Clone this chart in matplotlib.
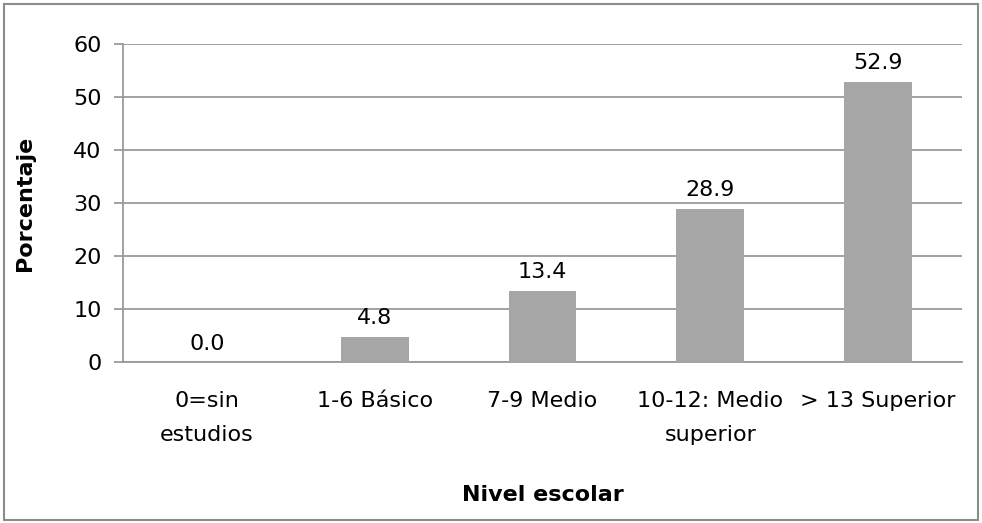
import matplotlib
matplotlib.use("Agg")
import matplotlib.pyplot as plt
from matplotlib.patches import Rectangle

categories = ["0=sin\nestudios", "1-6 Básico", "7-9 Medio", "10-12: Medio\nsuperior", "> 13 Superior"]
values = [0.0, 4.8, 13.4, 28.9, 52.9]
yticks = [0, 10, 20, 30, 40, 50, 60]

plt.rcParams['font.family'] = ['DejaVu Sans']

fig = plt.figure(figsize=(9.82, 5.23), dpi=100)
ax = fig.add_axes([123/982, (523-362)/523, 839/982, 318/523])

grid_c = "#9a9a9a"
bar_c = "#a6a6a6"

x = list(range(len(categories)))
ax.bar(x, values, width=0.405, color=bar_c, zorder=3)
ax.set_xlim(-0.5, len(categories) - 0.5)
ax.set_ylim(0, 60)
ax.set_yticks(yticks)
ax.set_yticklabels([str(t) for t in yticks])
ax.yaxis.grid(True, color=grid_c, linewidth=1.3, zorder=0)
ax.set_axisbelow(True)

for s in ["top", "right"]:
    ax.spines[s].set_visible(False)
for s in ["left", "bottom"]:
    ax.spines[s].set_color(grid_c)
    ax.spines[s].set_linewidth(1.3)

ax.tick_params(axis='y', length=6.5, width=1.3, color=grid_c, labelsize=16, pad=9, labelcolor='black')
ax.tick_params(axis='x', length=0, labelsize=16, pad=21, labelcolor='black')
ax.set_xticks(x)
ax.set_xticklabels(categories, linespacing=1.85)

for xi, v in zip(x, values):
    ax.annotate(f"{v:.1f}", (xi, v), xytext=(0, 9), textcoords="offset points",
                ha="center", va="baseline", fontsize=16, color="black")

ax.set_xlabel("Nivel escolar", fontsize=16, fontweight="bold", labelpad=29)
ax.set_ylabel("Porcentaje", fontsize=16, fontweight="bold", labelpad=27)

fig.patches.append(Rectangle((4/982, 3/523), 974/982, 516/523, transform=fig.transFigure,
                             fill=False, edgecolor="#8c8c8c", linewidth=1.5))

fig.savefig("out.png", dpi=100)
